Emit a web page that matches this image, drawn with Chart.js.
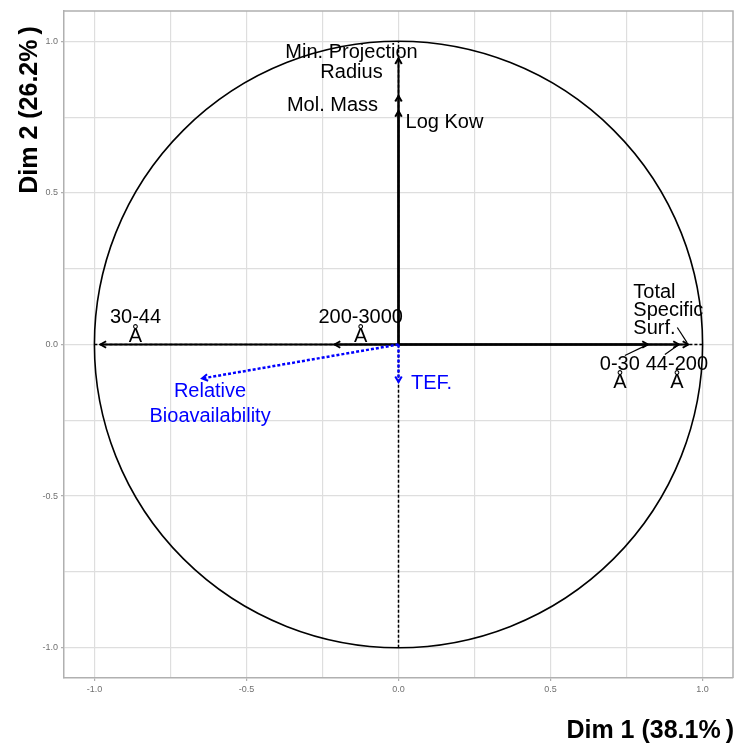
<!DOCTYPE html>
<html><head><meta charset="utf-8">
<script src="https://cdn.jsdelivr.net/npm/chart.js@4"></script>
<style>html,body{margin:0;padding:0;background:#fff}#wrap{width:738px;height:745px;position:relative}</style>
</head><body><div id="wrap"><canvas id="c"></canvas></div>
<script>
// ---- data ----
const activeNames = ['Min. Projection\nRadius', 'Mol. Mass', 'Log Kow', '30-44\nÅ', '200-3000\nÅ', '0-30\nÅ', '44-200\nÅ', 'Total\nSpecific\nSurf.'];
const activeDim1 = [0.0, 0.0, 0.0, -0.98, -0.21, 0.82, 0.922, 0.953];
const activeDim2 = [0.944, 0.82, 0.77, 0.0, 0.0, 0.0, 0.0, 0.0];
const suppNames = ['Relative\nBioavailability', 'TEF.'];
const suppDim1 = [-0.646, 0.0];
const suppDim2 = [-0.112, -0.124];
const tickValues = [-1, -0.75, -0.5, -0.25, 0, 0.25, 0.5, 0.75, 1];
const tickLabels = ['-1.0', '', '-0.5', '', '0.0', '', '0.5', '', '1.0'];
const axisTitleX = 'Dim 1 (38.1%)';
const axisTitleY = 'Dim 2 (26.2%)';

// ---- label placement (pixel offsets from arrow tip) ----
const activeLabelLayout = [
  {dx: -47, dy: -6, lh: 20, align: 'center'},
  {dx: -66, dy: 10, lh: 20, align: 'center'},
  {dx: 46, dy: 11, lh: 20, align: 'center'},
  {dx: 35, dy: -27, lh: 19, align: 'center'},
  {dx: 26, dy: -27, lh: 19, align: 'center'},
  {dx: -28, dy: 20, lh: 18, align: 'center', seg: [-23, 11]},
  {dx: -2, dy: 20, lh: 18, align: 'center', seg: [-14, 10]},
  {dx: -55, dy: -52, lh: 18, align: 'left', seg: [-11, -17]}
];
const suppLabelLayout = [
  {dx: 8, dy: 13, lh: 25, align: 'center'},
  {dx: 33, dy: 1, lh: 20, align: 'center'}
];

const FONT = "'Liberation Sans', Arial, Helvetica, sans-serif";
const BLACK = '#000000';
const BLUE = '#0000ff';

const datasets = [];
activeNames.forEach((n, i) => {
  datasets.push({
    label: n, kind: 'active', idx: i,
    data: [{x: 0, y: 0}, {x: activeDim1[i], y: activeDim2[i]}],
    showLine: true, borderColor: BLACK, borderWidth: 2, pointRadius: 0, order: 2
  });
});
suppNames.forEach((n, i) => {
  datasets.push({
    label: n, kind: 'supp', idx: i,
    data: [{x: 0, y: 0}, {x: suppDim1[i], y: suppDim2[i]}],
    showLine: true, borderColor: BLUE, borderWidth: 2.5, borderDash: [3, 2], pointRadius: 0, order: 1
  });
});

// draw a title whose closing parenthesis sits slightly apart, as in the reference
function drawTitle(ctx, text, x, y, align) {
  const main = text.slice(0, -1), close = text.slice(-1);
  const gap = 5;
  const wMain = ctx.measureText(main).width, wClose = ctx.measureText(close).width;
  const total = wMain + gap + wClose;
  let left = align === 'right' ? x - total : x - total / 2;
  ctx.textAlign = 'left';
  ctx.fillText(main, left, y);
  ctx.fillText(close, left + wMain + gap, y);
}

const guidePlugin = {
  id: 'guides',
  beforeDatasetsDraw(chart) {
    const {ctx, chartArea} = chart;
    const xs = chart.scales.x, ys = chart.scales.y;
    const cx = xs.getPixelForValue(0), cy = ys.getPixelForValue(0);
    const rx = xs.getPixelForValue(1) - cx, ry = cy - ys.getPixelForValue(1);
    ctx.save();
    ctx.strokeStyle = '#b0b0b0'; ctx.lineWidth = 1.5;
    ctx.beginPath();
    ctx.moveTo(chartArea.left, chartArea.top); ctx.lineTo(chartArea.right, chartArea.top);
    ctx.lineTo(chartArea.right, chartArea.bottom);
    ctx.stroke();
    ctx.strokeStyle = BLACK; ctx.lineWidth = 1.5; ctx.setLineDash([3, 2]);
    ctx.beginPath();
    ctx.moveTo(xs.getPixelForValue(-1), cy); ctx.lineTo(xs.getPixelForValue(1), cy);
    ctx.moveTo(cx, ys.getPixelForValue(-1)); ctx.lineTo(cx, ys.getPixelForValue(1));
    ctx.stroke();
    ctx.setLineDash([]);
    ctx.lineWidth = 1.6;
    ctx.beginPath();
    ctx.ellipse(cx, cy, rx, ry, 0, 0, Math.PI * 2);
    ctx.stroke();
    ctx.restore();
  },
  afterDatasetsDraw(chart) {
    const {ctx} = chart;
    ctx.save();
    chart.data.datasets.forEach((ds, di) => {
      const meta = chart.getDatasetMeta(di);
      const p0 = meta.data[0], p1 = meta.data[1];
      const ang = Math.atan2(p1.y - p0.y, p1.x - p0.x);
      const L = 6.5, a = Math.PI / 6;
      ctx.strokeStyle = ds.borderColor;
      ctx.lineWidth = 2;
      ctx.setLineDash([]);
      ctx.beginPath();
      ctx.moveTo(p1.x - L * Math.cos(ang - a), p1.y - L * Math.sin(ang - a));
      ctx.lineTo(p1.x, p1.y);
      ctx.lineTo(p1.x - L * Math.cos(ang + a), p1.y - L * Math.sin(ang + a));
      ctx.stroke();
      const lay = ds.kind === 'active' ? activeLabelLayout[ds.idx] : suppLabelLayout[ds.idx];
      const lines = ds.label.split('\n');
      ctx.font = '20px ' + FONT;
      ctx.fillStyle = ds.borderColor;
      ctx.textAlign = lay.align;
      ctx.textBaseline = 'middle';
      lines.forEach((t, k) => ctx.fillText(t, p1.x + lay.dx, p1.y + lay.dy + k * lay.lh));
      if (lay.seg) {
        ctx.strokeStyle = BLACK; ctx.lineWidth = 1.2;
        ctx.beginPath();
        ctx.moveTo(p1.x + lay.seg[0], p1.y + lay.seg[1]);
        const d = Math.hypot(lay.seg[0], lay.seg[1]);
        ctx.lineTo(p1.x + lay.seg[0] * 2 / d, p1.y + lay.seg[1] * 2 / d);
        ctx.stroke();
      }
    });
    ctx.restore();
  },
  afterDraw(chart) {
    const {ctx} = chart;
    ctx.save();
    ctx.fillStyle = BLACK;
    ctx.font = 'bold 25px ' + FONT;
    ctx.textBaseline = 'middle';
    drawTitle(ctx, axisTitleX, 734, 731, 'right');
    ctx.translate(30, 110);
    ctx.rotate(-Math.PI / 2);
    drawTitle(ctx, axisTitleY, 0, 0, 'center');
    ctx.restore();
  }
};

function axis(isX) {
  return {
    type: 'linear', min: -1.1, max: 1.1,
    afterBuildTicks(s) { s.ticks = tickValues.map(v => ({value: v})); },
    afterFit(s) { if (isX) s.height = 67; else s.width = 64; },
    ticks: {
      autoSkip: false, maxRotation: 0, padding: 3,
      color: '#707070', font: {size: 9, family: FONT},
      callback: (v, i) => tickLabels[i]
    },
    grid: {
      color: '#dedede', lineWidth: 1.2, tickLength: 3,
      tickColor: c => (tickLabels[c.index] ? '#b0b0b0' : 'rgba(0,0,0,0)')
    },
    border: {display: true, color: '#b0b0b0', width: 1.5}
  };
}

new Chart(document.getElementById('c'), {
  type: 'scatter',
  data: {datasets},
  options: {
    responsive: true, maintainAspectRatio: false, animation: false,
    layout: {padding: {top: 11, right: 5, left: 0, bottom: 0}},
    plugins: {legend: {display: false}, tooltip: {enabled: false}},
    scales: {x: axis(true), y: axis(false)}
  },
  plugins: [guidePlugin]
});
</script>
</body></html>
